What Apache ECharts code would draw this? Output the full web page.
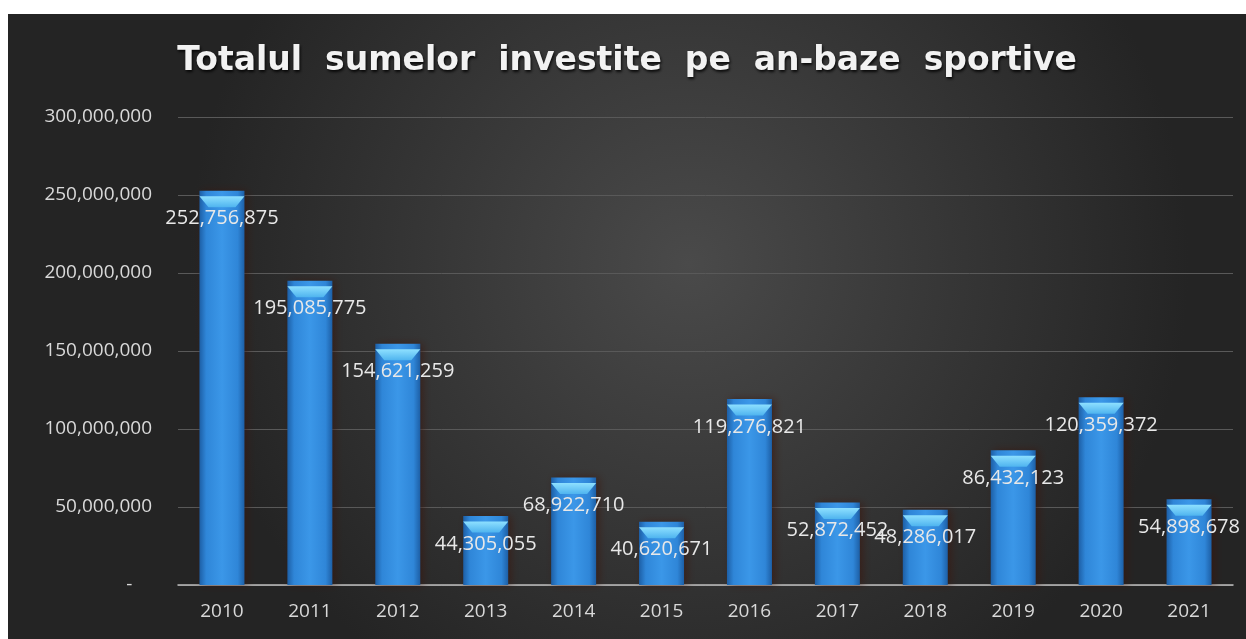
<!DOCTYPE html>
<html>
<head>
<meta charset="utf-8">
<script src="https://cdn.jsdelivr.net/npm/echarts@6/dist/echarts.min.js"></script>
<style>
  html, body { margin: 0; padding: 0; background: #ffffff; }
  #chart { position: absolute; left: 8px; top: 14px; width: 1238px; height: 625px; }
</style>
</head>
<body>
<div id="chart"></div>
<script>
// date
var ani = ['2010', '2011', '2012', '2013', '2014', '2015', '2016', '2017', '2018', '2019', '2020', '2021'];
var sume = [252756875, 195085775, 154621259, 44305055, 68922710, 40620671, 119276821, 52872452, 48286017, 86432123, 120359372, 54898678];
var axaY = [0, 50000000, 100000000, 150000000, 200000000, 250000000, 300000000];

function formatNr(v) {
    return String(v).replace(/\B(?=(\d{3})+(?!\d))/g, ',');
}

var myChart = echarts.init(document.getElementById('chart'));

var option = {
    backgroundColor: {
        type: 'radial', x: 0.55, y: 0.4, r: 0.8,
        colorStops: [
            { offset: 0, color: '#4a4a4a' },
            { offset: 1, color: '#242424' }
        ]
    },
    title: {
        text: 'Totalul  sumelor  investite  pe  an-baze  sportive',
        left: 'center',
        top: 26,
        textStyle: {
            color: '#f2f2f2',
            fontFamily: 'DejaVu Sans',
            fontWeight: 'bold',
            fontSize: 33,
            textShadowColor: 'rgba(0,0,0,0.85)',
            textShadowBlur: 3,
            textShadowOffsetX: 1,
            textShadowOffsetY: 2
        }
    },
    grid: { left: 170, right: 13, top: 103, bottom: 54 },
    xAxis: {
        type: 'category',
        data: ani,
        axisLine: { show: true, lineStyle: { color: '#bdbdbd', width: 1.5 } },
        axisTick: { show: false },
        axisLabel: {
            color: '#d9d9d9', fontFamily: 'Open Sans', fontSize: 19, margin: 17
        }
    },
    yAxis: {
        type: 'value',
        min: axaY[0],
        max: axaY[axaY.length - 1],
        interval: axaY[1] - axaY[0],
        axisLine: { show: false },
        axisTick: { show: false },
        splitLine: { show: true, lineStyle: { color: '#595959', width: 1 } },
        axisLabel: {
            color: '#d9d9d9', fontFamily: 'Open Sans', fontSize: 19, margin: 26,
            formatter: function (v) { return v === 0 ? '-    ' : formatNr(v); }
        }
    },
    series: [{
        name: 'sume',
        type: 'bar',
        data: sume,
        barWidth: 45,
        itemStyle: {
            color: {
                type: 'linear', x: 0, y: 0, x2: 1, y2: 0,
                colorStops: [
                    { offset: 0, color: '#1d5fa6' },
                    { offset: 0.15, color: '#2f86d8' },
                    { offset: 0.5, color: '#3b97e8' },
                    { offset: 0.85, color: '#2f86d8' },
                    { offset: 1, color: '#1d5fa6' }
                ]
            },
            shadowColor: 'rgba(60,20,10,0.6)',
            shadowBlur: 8,
            shadowOffsetX: 3
        },
        label: {
            show: true,
            position: 'insideTop',
            distance: 18,
            color: '#e8e8e8',
            fontFamily: 'Open Sans',
            fontSize: 20,
            formatter: function (p) { return formatNr(p.value); }
        },
        z: 2
    }, {
        name: 'capac',
        type: 'pictorialBar',
        data: sume,
        symbol: 'path://M0,0 L45,0 L36,10 L9,10 Z',
        symbolSize: [45, 11],
        symbolPosition: 'end',
        symbolOffset: [0, '50%'],
        itemStyle: {
            color: {
                type: 'linear', x: 0, y: 0, x2: 0, y2: 1,
                colorStops: [
                    { offset: 0, color: '#8ee0ff' },
                    { offset: 1, color: '#4fb4ef' }
                ]
            }
        },
        silent: true,
        z: 3
    }]
};

myChart.setOption(option);
</script>
</body>
</html>
